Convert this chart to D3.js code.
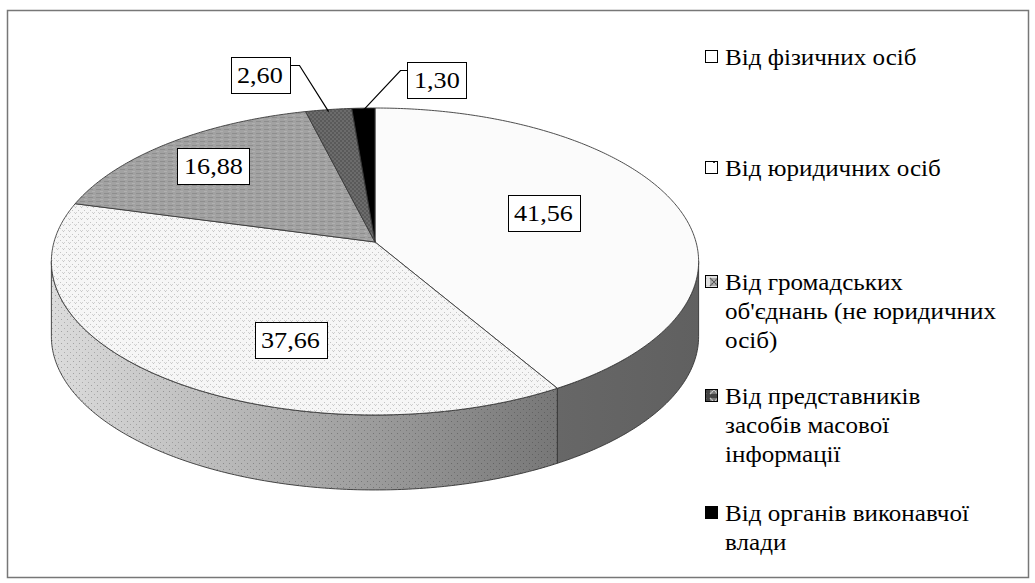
<!DOCTYPE html>
<html>
<head>
<meta charset="utf-8">
<script src="https://cdn.jsdelivr.net/npm/d3@7"></script>
<style>
  html, body { margin: 0; padding: 0; background: #fff; }
  #wrap { position: relative; width: 1035px; height: 583px; overflow: hidden; }
  #wrap svg { position: absolute; left: 0; top: 0; display: block; }
  .txt { position: absolute; white-space: nowrap; font-family: "Liberation Serif", "Times New Roman", serif; color: #000; }
</style>
</head>
<body>
<div id="wrap"><svg id="chart" width="1035" height="583"></svg></div>
<script>
// ---- data ----
const categories = [
  "Від фізичних осіб",
  "Від юридичних осіб",
  "Від громадських об'єднань (не юридичних осіб)",
  "Від представників засобів масової інформації",
  "Від органів виконавчої влади"
];
const values = [41.56, 37.66, 16.88, 2.60, 1.30];
const valueLabels = ["41,56", "37,66", "16,88", "2,60", "1,30"];
const legendLines = [
  ["Від фізичних осіб"],
  ["Від юридичних осіб"],
  ["Від громадських", "об'єднань (не юридичних", "осіб)"],
  ["Від представників", "засобів масової", "інформації"],
  ["Від органів виконавчої", "влади"]
];

// ---- layout ----
const geo = { cx: 375, cy: 242, A: 321, B: 151, k: 0.127, depth: 75 };
const labelCenters = [[543.5, 213], [290.5, 340], [213, 166], [260, 74.5], [436.5, 79.5]];
const legendBaselines = [66, 177, 291, 405, 522];
const legendLineH = 29;
const legendFont = 23, labelFont = 24, stretch = 1.09;
const ASC = 0.891, DESC = 0.216;

const wrap = d3.select("#wrap");
const svg = d3.select("#chart");
const defs = svg.append("defs");

function pat(id, w, h, bg, draw) {
  const p = defs.append("pattern").attr("id", id).attr("patternUnits", "userSpaceOnUse")
    .attr("width", w).attr("height", h);
  p.append("rect").attr("width", w).attr("height", h).attr("fill", bg);
  draw(p);
}
pat("pTop1", 4, 4, "#fbfbfb", p => {});
pat("pTop2", 6, 6, "#f6f6f6", p => {
  p.append("rect").attr("x", 0).attr("y", 0).attr("width", 1).attr("height", 1).attr("fill", "#c4c4c4");
  p.append("rect").attr("x", 2).attr("y", 2).attr("width", 1).attr("height", 1).attr("fill", "#d2d2d2");
  p.append("rect").attr("x", 3).attr("y", 3).attr("width", 1).attr("height", 1).attr("fill", "#c4c4c4");
  p.append("rect").attr("x", 4).attr("y", 2).attr("width", 1).attr("height", 1).attr("fill", "#d2d2d2");
});
pat("pTop3", 8, 4, "#a2a2a2", p => {
  p.append("rect").attr("x", 0).attr("y", 1).attr("width", 5).attr("height", 1).attr("fill", "#8e8e8e");
  p.append("rect").attr("x", 4).attr("y", 3).attr("width", 3).attr("height", 1).attr("fill", "#b0b0b0");
});
pat("pTop4", 4, 4, "#6c6c6c", p => {
  p.append("rect").attr("x", 0).attr("y", 0).attr("width", 2).attr("height", 2).attr("fill", "#5a5a5a");
  p.append("rect").attr("x", 2).attr("y", 2).attr("width", 2).attr("height", 2).attr("fill", "#5a5a5a");
});
pat("pTop5", 4, 4, "#000", p => {});
pat("pDots", 6, 6, "none", p => {
  p.append("rect").attr("x", 1).attr("y", 1).attr("width", 1).attr("height", 1).attr("fill", "#000").attr("opacity", 0.25);
  p.append("rect").attr("x", 4).attr("y", 4).attr("width", 1).attr("height", 1).attr("fill", "#000").attr("opacity", 0.2);
});
pat("pLeg2", 12, 12, "#fff", p => {
  p.append("rect").attr("x", 5).attr("y", 5).attr("width", 2).attr("height", 2).attr("fill", "#333");
});
pat("pLeg3", 12, 12, "#e0e0e0", p => {
  p.append("path").attr("d", "M2,2L10,10M10,2L2,10").attr("stroke", "#555").attr("stroke-width", 1.2);
  p.append("rect").attr("x", 3).attr("y", 3).attr("width", 6).attr("height", 6).attr("fill", "none").attr("stroke", "#777");
});
pat("pLeg4", 12, 12, "#444", p => {
  p.append("path").attr("d", "M2,2L10,10M10,2L2,10").attr("stroke", "#ccc").attr("stroke-width", 1.2);
  p.append("rect").attr("x", 3).attr("y", 3).attr("width", 6).attr("height", 6).attr("fill", "none").attr("stroke", "#aaa");
});

const topFills = ["url(#pTop1)", "url(#pTop2)", "url(#pTop3)", "url(#pTop4)", "url(#pTop5)"];
const legendFills = ["#fff", "url(#pLeg2)", "url(#pLeg3)", "url(#pLeg4)", "#000"];

const g2 = defs.append("linearGradient").attr("id", "side2").attr("gradientUnits", "userSpaceOnUse")
  .attr("x1", 52).attr("x2", 557).attr("y1", 0).attr("y2", 0);
g2.append("stop").attr("offset", 0).attr("stop-color", "#dcdcdc");
g2.append("stop").attr("offset", 0.45).attr("stop-color", "#afafaf");
g2.append("stop").attr("offset", 1).attr("stop-color", "#777");
const g1 = defs.append("linearGradient").attr("id", "side1").attr("gradientUnits", "userSpaceOnUse")
  .attr("x1", 557).attr("x2", 700).attr("y1", 0).attr("y2", 0);
g1.append("stop").attr("offset", 0).attr("stop-color", "#676767");
g1.append("stop").attr("offset", 1).attr("stop-color", "#606060");
const sideFills = ["url(#side1)", "url(#side2)", "#888", "#555", "#000"];

svg.append("rect").attr("x", 7.5).attr("y", 10.5).attr("width", 1021).attr("height", 567)
  .attr("fill", "#fff").attr("stroke", "#777").attr("stroke-width", 1.5);

// perspective projection of the pie disc; dz = vertical extrusion in screen pixels
function proj(a, f, dz) {
  const t = a - Math.PI / 2;
  const u = f * Math.cos(t), v = f * Math.sin(t);
  const w = 1 - geo.k * v;
  return [geo.cx + geo.A * u / w, geo.cy + geo.B * v / w + (dz || 0)];
}
function arcPts(a0, a1, dz) {
  const n = Math.max(2, Math.ceil(Math.abs(a1 - a0) / 0.01));
  return d3.range(n + 1).map(i => proj(a0 + (a1 - a0) * i / n, 1, dz));
}

const pie = d3.pie().sort(null).value(d => d);
const arcs = pie(values);
const line = d3.line();

const tSil = Math.asin(geo.k);
const frontA0 = tSil + Math.PI / 2, frontA1 = Math.PI - tSil + Math.PI / 2;

const gSides = svg.append("g");
arcs.forEach((d, i) => {
  const a0 = Math.max(d.startAngle, frontA0), a1 = Math.min(d.endAngle, frontA1);
  if (a1 <= a0) return;
  const topPts = arcPts(a0, a1, 0);
  const botPts = arcPts(a1, a0, geo.depth);
  const path = line(topPts.concat(botPts)) + "Z";
  gSides.append("path").attr("d", path).attr("fill", sideFills[i]);
  if (i === 1) gSides.append("path").attr("d", path).attr("fill", "url(#pDots)");
  gSides.append("path").attr("d", path).attr("fill", "none").attr("stroke", "#333").attr("stroke-width", 0.9);
});

const gTops = svg.append("g");
arcs.forEach((d, i) => {
  const c = proj(0, 0, 0);
  const pts = [c].concat(arcPts(d.startAngle, d.endAngle, 0));
  gTops.append("path").attr("d", line(pts) + "Z").attr("fill", topFills[i])
    .attr("stroke", "#3a3a3a").attr("stroke-width", 0.9).attr("stroke-linejoin", "round");
});

function htmlText(str, x, baseline, fs, anchor) {
  const lh = Math.round(fs * 1.2);
  const off = (lh - (ASC + DESC) * fs) / 2 + ASC * fs;
  const el = wrap.append("div").attr("class", "txt")
    .style("font-size", fs + "px").style("line-height", lh + "px").text(str);
  const w = el.node().getBoundingClientRect().width;
  const sw = w * stretch;
  const left = anchor === "middle" ? x - sw / 2 : x;
  el.style("left", left + "px").style("top", (baseline - off) + "px")
    .style("transform", `scaleX(${stretch})`).style("transform-origin", "0 0");
  return sw;
}

const gLab = svg.append("g");
arcs.forEach((d, i) => {
  const [lx, ly] = labelCenters[i];
  const sw = htmlText(valueLabels[i], lx, ly + 8.7, labelFont, "middle");
  const bw = Math.round(sw + 13), bh = 36;
  const bx = Math.round(lx - bw / 2) + 0.5, by = Math.round(ly - bh / 2) + 0.5;
  gLab.append("rect").attr("x", bx).attr("y", by).attr("width", bw).attr("height", bh)
    .attr("fill", "#fff").attr("stroke", "#000").attr("stroke-width", 1);
  if (d.value < 5) {
    const mid = (d.startAngle + d.endAngle) / 2;
    const [px, py] = proj(mid, 1, 0);
    const left = lx < px;
    const ex = left ? bx + bw : bx;
    const ey = by + 8;
    const kx = left ? ex + 9 : ex - 7;
    gLab.append("path").attr("d", `M${ex},${ey}L${kx},${ey}L${px},${py + 2}`)
      .attr("fill", "none").attr("stroke", "#000").attr("stroke-width", 1.2);
  }
});

const gLeg = svg.append("g");
legendLines.forEach((lines, i) => {
  const by = legendBaselines[i];
  gLeg.append("rect").attr("x", 705.5).attr("y", by - 15.5).attr("width", 12).attr("height", 12)
    .attr("fill", legendFills[i]).attr("stroke", "#000").attr("stroke-width", 1);
  lines.forEach((ln, j) => htmlText(ln, 725, by + j * legendLineH, legendFont, "start"));
});
</script>
</body>
</html>
